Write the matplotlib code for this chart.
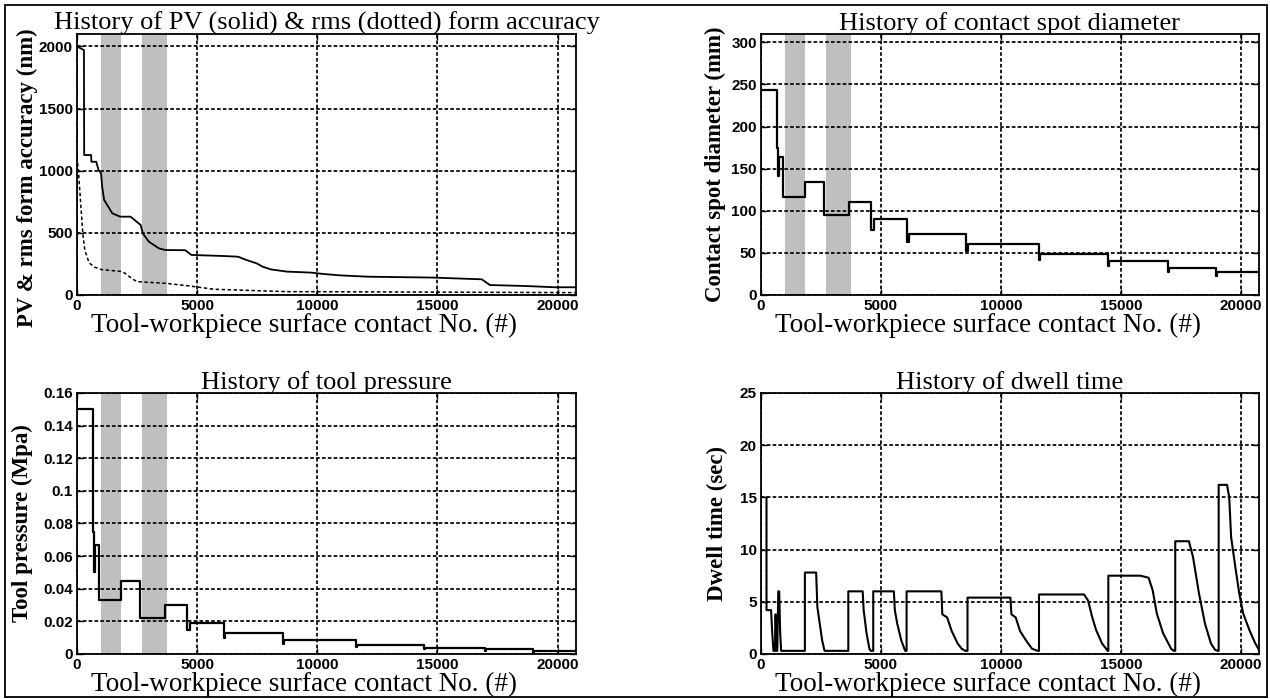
import matplotlib
matplotlib.use('Agg')
import matplotlib.pyplot as plt
from matplotlib.patches import Rectangle
from matplotlib.ticker import FuncFormatter

# PV (solid) and rms (dotted) form accuracy, nm
pv_x = [0, 290, 300, 590, 600, 800, 900, 1000, 1050, 1130, 1470, 1800, 2230, 2400, 2650, 2740, 2990, 3410, 3670, 4510,
        4760, 6030, 6700, 7040, 7470, 7720, 8060, 8730, 9750, 10250, 10930, 12110, 14810, 16840, 17180, 18700, 19880, 20760]
pv_y = [2000, 1970, 1126, 1126, 1072, 1072, 1005, 980, 870, 765, 657, 630, 630, 603, 563, 496, 429, 375, 362, 360,
        322, 314, 308, 282, 255, 228, 206, 188, 180, 169, 158, 147, 140, 126, 80, 72, 62, 62]
rms_x = [0, 60, 150, 250, 330, 500, 720, 1000, 1800, 2000, 2300, 2500, 3700, 4700, 5700, 8700, 20760]
rms_y = [1110, 1000, 750, 480, 360, 260, 225, 205, 190, 175, 130, 107, 94, 72, 46, 27, 19]

# stage start positions (shared by spot diameter and pressure)
stage_x = [0, 650, 710, 750, 930, 1830, 2630, 3660, 4580, 4700, 6100, 6150, 8560, 8610, 11600, 11650,
           14450, 14500, 16970, 17020, 18970, 19020]
x_end = 20760
spot_d = [244, 175, 141, 164, 116, 134, 95, 110, 77, 90, 63, 73, 52, 60, 42, 49,
          35, 40, 27, 32, 22, 27]
pressure = [0.150, 0.075, 0.050, 0.067, 0.033, 0.0445, 0.0222, 0.030, 0.0147, 0.0192, 0.0096, 0.0131, 0.0064, 0.0086,
            0.0045, 0.0057, 0.0033, 0.0039, 0.0020, 0.0028, 0.0013, 0.0018]

# dwell time, sec
dwell_x = ([230, 230, 420, 470, 520, 580, 610, 640, 680, 720, 760, 800, 840]
           + [1830, 1830, 2300, 2350, 2450, 2550, 2650]
           + [3640, 3640, 4240, 4280, 4400, 4520, 4580]
           + [4680, 4680, 5540, 5580, 5680, 5850, 6010]
           + [6070, 6070, 7520, 7560, 7760, 7950, 8200, 8370, 8520]
           + [8610, 8610, 10400, 10440, 10620, 10800, 11050, 11300, 11540]
           + [11590, 11590, 13470, 13640, 13800, 13970, 14220, 14390, 14450]
           + [14480, 14480, 15820, 16160, 16330, 16500, 16760, 17100, 17210]
           + [17270, 17270, 17840, 18010, 18260, 18510, 18760, 18930, 19040]
           + [19080, 19080, 19430, 19520, 19600, 19770, 19940, 20100, 20360, 20610, 20760])
dwell_y = ([15, 4.2, 4.2, 2.0, 0.3, 0.3, 3.8, 0.3, 0.3, 6.0, 6.0, 2.0, 0.3]
           + [0.3, 7.8, 7.8, 4.5, 2.9, 1.3, 0.3]
           + [0.3, 6.0, 6.0, 4.2, 2.0, 0.5, 0.3]
           + [0.3, 6.0, 6.0, 4.2, 2.9, 1.3, 0.3]
           + [0.3, 6.0, 6.0, 3.8, 3.5, 2.2, 1.0, 0.5, 0.3]
           + [0.3, 5.4, 5.4, 3.8, 3.5, 2.2, 1.3, 0.5, 0.3]
           + [0.3, 5.7, 5.7, 5.1, 3.6, 2.3, 1.0, 0.5, 0.3]
           + [0.3, 7.5, 7.5, 7.3, 6.1, 3.9, 2.0, 0.5, 0.3]
           + [0.3, 10.8, 10.8, 9.3, 5.8, 2.9, 1.0, 0.4, 0.3]
           + [0.3, 16.2, 16.2, 15.0, 11.2, 8.4, 5.8, 3.9, 2.3, 1.0, 0.4])

bands = [(1000, 1830), (2700, 3750)]
xticks = [0, 5000, 10000, 15000, 20000]
xlabel = 'Tool-workpiece surface contact No. (#)'

plt.rcParams['lines.scale_dashes'] = False
serif = 'Liberation Serif'
sans = 'Liberation Sans'


def setup(ax, title, ylabel, ylim, yticks, ylab_x, ylab_y=0.5, shade=True):
    if shade:
        for a, b in bands:
            ax.axvspan(a, b, color='#bfbfbf', lw=0, zorder=1)
    ax.set_xlim(0, x_end)
    ax.set_ylim(*ylim)
    ax.set_xticks(xticks)
    ax.set_yticks(yticks)
    ax.yaxis.set_major_formatter(FuncFormatter(lambda v, p: '%g' % v))
    ax.grid(True, color='k', linestyle=(0, (2.6, 1.6)), linewidth=1.25)
    ax.tick_params(direction='in', length=4, width=1, top=True, right=True, pad=3)
    for lab in ax.get_xticklabels() + ax.get_yticklabels():
        lab.set_fontfamily(sans)
        lab.set_fontweight('bold')
        lab.set_fontsize(11)
    for s in ax.spines.values():
        s.set_linewidth(1.3)
    ax.set_title(title, fontfamily=serif, fontsize=19, pad=3)
    ax.set_xlabel(xlabel, fontfamily=serif, fontsize=19.5, labelpad=0)
    ax.xaxis.label.set_x(0.455)
    ax.set_ylabel(ylabel, fontfamily=serif, fontsize=16.5, fontweight='bold')
    ax.yaxis.set_label_coords(ylab_x, ylab_y)


fig = plt.figure(figsize=(12.7, 6.99), dpi=100)
fig.patches.append(Rectangle((5 / 1270, 2 / 699), 1262 / 1270, 692 / 699, transform=fig.transFigure,
                             fill=False, edgecolor='k', linewidth=1.3))

ax1 = fig.add_axes([0.0606, 0.578, 0.3929, 0.3734])
ax2 = fig.add_axes([0.5992, 0.578, 0.3921, 0.3734])
ax3 = fig.add_axes([0.0606, 0.0644, 0.3929, 0.3734])
ax4 = fig.add_axes([0.5992, 0.0644, 0.3921, 0.3734])

setup(ax1, 'History of PV (solid) & rms (dotted) form accuracy', 'PV & rms form accuracy (nm)',
      (0, 2100), [0, 500, 1000, 1500, 2000], -0.078, 0.45)
ax1.plot(pv_x, pv_y, color='k', lw=1.3, zorder=3)
ax1.plot(rms_x, rms_y, color='k', lw=1.1, linestyle=(0, (2.5, 1.8)), zorder=3)

setup(ax2, 'History of contact spot diameter', 'Contact spot diameter (mm)',
      (0, 310), [0, 50, 100, 150, 200, 250, 300], -0.07)
ax2.step(stage_x + [x_end], spot_d + [spot_d[-1]], where='post', color='k', lw=1.6, zorder=3)

setup(ax3, 'History of tool pressure', 'Tool pressure (Mpa)',
      (0, 0.16), [0, 0.02, 0.04, 0.06, 0.08, 0.1, 0.12, 0.14, 0.16], -0.088)
ax3.step(stage_x + [x_end], pressure + [pressure[-1]], where='post', color='k', lw=1.6, zorder=3)

setup(ax4, 'History of dwell time', 'Dwell time (sec)',
      (0, 25), [0, 5, 10, 15, 20, 25], -0.066, shade=False)
ax4.plot(dwell_x, dwell_y, color='k', lw=1.5, zorder=3)

fig.savefig('out.png', dpi=100)
